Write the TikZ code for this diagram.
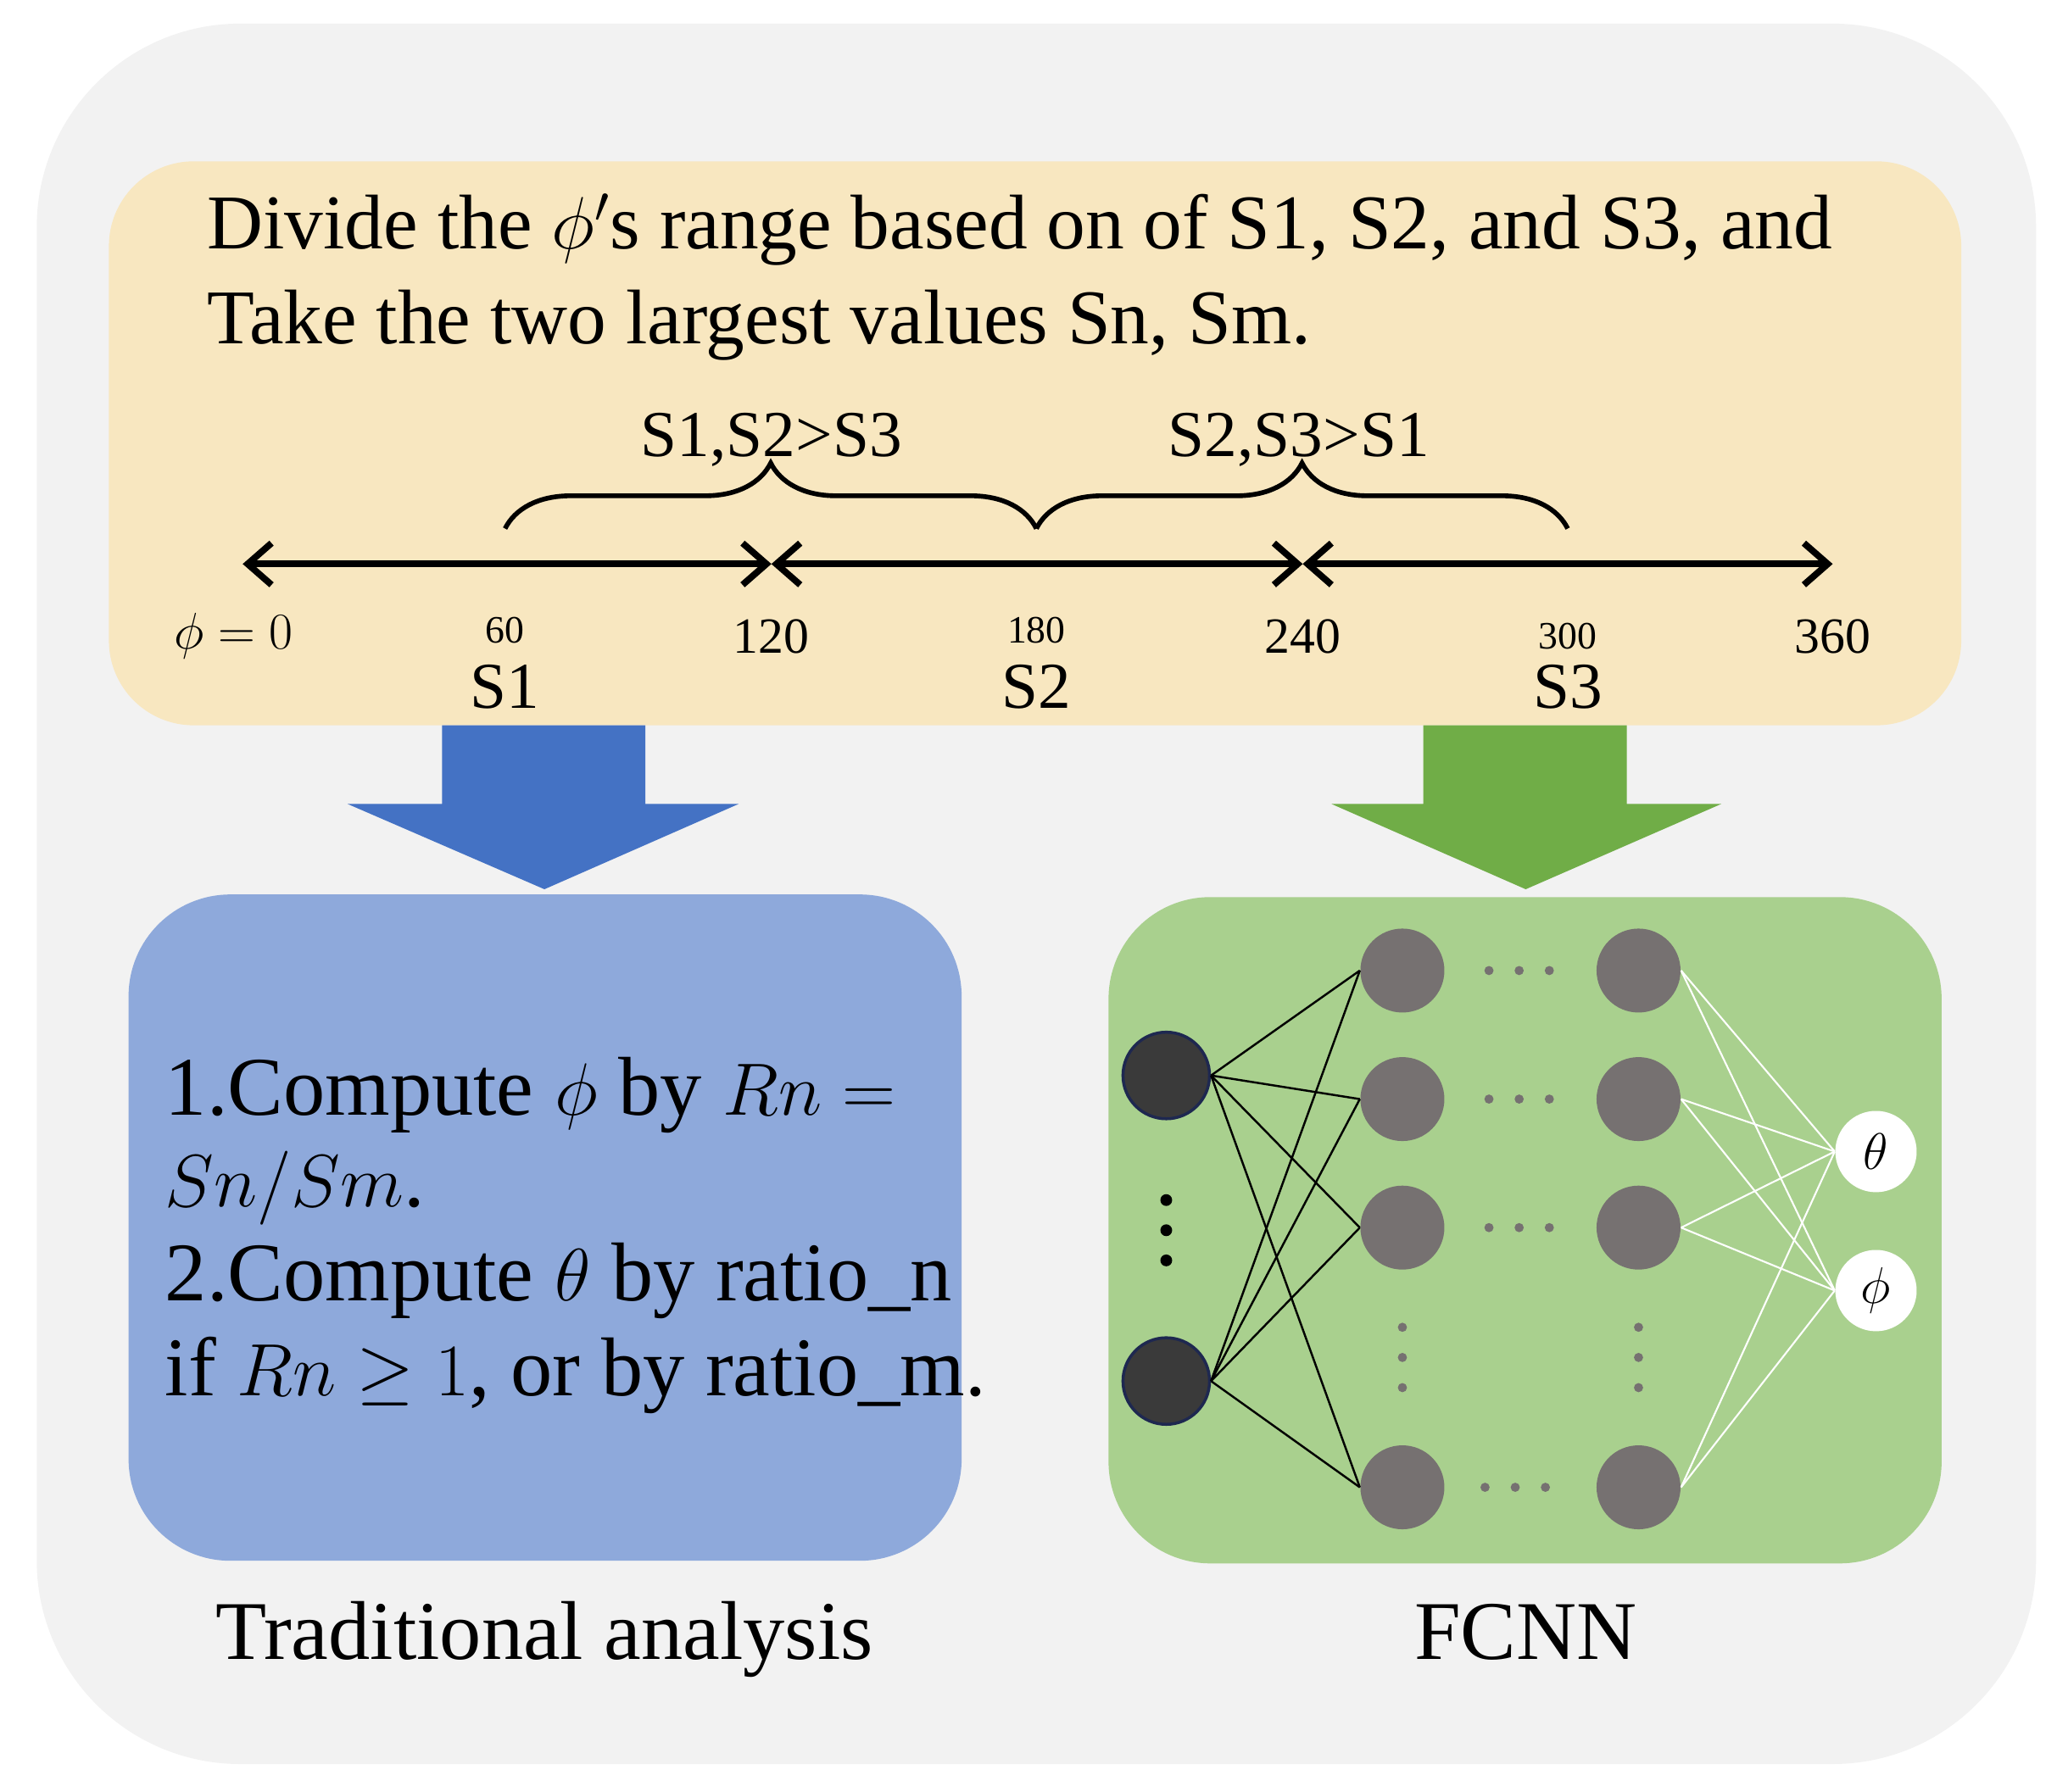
\documentclass[tikz,border=0pt]{standalone}
\usepackage{fontspec}
\setmainfont{Liberation Serif}
\usetikzlibrary{decorations.pathreplacing,arrows.meta}
\definecolor{outerbg}{HTML}{F2F2F2}
\definecolor{yel}{HTML}{F8E7C0}
\definecolor{bluearr}{HTML}{4472C4}
\definecolor{greenarr}{HTML}{70AD47}
\definecolor{bluebox}{HTML}{8EA9DB}
\definecolor{greenbox}{HTML}{A9D08E}
\definecolor{hid}{HTML}{767171}
\definecolor{inp}{HTML}{3A3A3A}
\begin{document}
\begin{tikzpicture}[x=0.01547cm,y=-0.01547cm,
  big/.style={font=\fontsize{26}{31}\selectfont},
  tick/.style={font=\fontsize{17}{20}\selectfont},
  small/.style={font=\fontsize{13}{15}\selectfont},
  slab/.style={font=\fontsize{22}{26}\selectfont},
  axis/.style={line width=2.2pt,{Straight Barb[length=8pt,width=14pt]}-{Straight Barb[length=8pt,width=14pt]}},
  br/.style={line width=1.6pt,decorate,decoration={brace,amplitude=22pt}},
  hn/.style={circle,fill=hid,minimum size=64*0.01547cm,inner sep=0},
  inn/.style={circle,fill=inp,draw={rgb,255:red,30;green,40;blue,80},line width=1pt,minimum size=66*0.01547cm,inner sep=0},
  outn/.style={circle,fill=white,minimum size=62*0.01547cm,inner sep=0,font=\fontsize{17}{20}\selectfont},
  dt/.style={circle,fill=hid,inner sep=0,minimum size=7*0.01547cm}]
\useasboundingbox (0,0) rectangle (1568,1366);
\fill[outerbg,rounded corners=2.4cm] (28,18) rectangle (1552,1345);
\fill[yel,rounded corners=1cm] (83,123) rectangle (1495,553);
\node[big,anchor=base west,align=left] (t1) at (150,190) {Divide the $\phi'$s range based on of S1, S2, and S3, and};
\node[big,anchor=base west] (t2) at (150,262) {Take the two largest values Sn, Sm.};
\coordinate (a0) at (185,430); \coordinate (a1) at (588,430);
\coordinate (a2) at (993,430); \coordinate (a3) at (1397,430);
\draw[axis] (a0) -- (a1); \draw[axis] (a1) -- (a2); \draw[axis] (a2) -- (a3);
\coordinate (b0) at (385,403); \coordinate (b1) at (790,403); \coordinate (b2) at (1195,403);
\draw[br] (b0) -- (b1); \draw[br] (b1) -- (b2);
\node[slab,anchor=base] (l1) at (588,348) {S1,S2>S3};
\node[slab,anchor=base] (l2) at (990,348) {S2,S3>S1};
\node[tick,anchor=base] (n0) at (178,495) {$\phi=0$};
\node[small,anchor=base] (n60) at (385,490) {60};
\node[tick,anchor=base] (n120) at (588,498) {120};
\node[small,anchor=base] (n180) at (790,490) {180};
\node[tick,anchor=base] (n240) at (993,498) {240};
\node[small,anchor=base] (n300) at (1195,495) {300};
\node[tick,anchor=base] (n360) at (1397,498) {360};
\node[slab,anchor=base] (s1) at (385,540) {S1};
\node[slab,anchor=base] (s2) at (790,540) {S2};
\node[slab,anchor=base] (s3) at (1195,540) {S3};
\fill[bluearr] (337,553) -- (492,553) -- (492,613) -- (563,613) -- (415,678) -- (265,613) -- (337,613) -- cycle;
\fill[greenarr] (1085,553) -- (1240,553) -- (1240,613) -- (1312,613) -- (1163,678) -- (1015,613) -- (1085,613) -- cycle;
\fill[bluebox,rounded corners=1.2cm] (98,682) rectangle (733,1190);
\node[font=\fontsize{28}{33}\selectfont,anchor=base west] (c1) at (118,850) {1.Compute $\phi$ by $Rn=$};
\node[font=\fontsize{28}{33}\selectfont,anchor=base west] (c2) at (118,920) {$Sn/Sm$.};
\node[font=\fontsize{28}{33}\selectfont,anchor=base west] (c3) at (118,992) {2.Compute $\theta$ by ratio\_n};
\node[font=\fontsize{28}{33}\selectfont,anchor=base west] (c4) at (118,1064) {if $Rn\geq1$, or by ratio\_m.};
\fill[greenbox,rounded corners=1.2cm] (845,684) rectangle (1480,1192);
\foreach \n/\y in {1/740,2/838,3/936,4/1134}{
  \node[hn] (h\n) at (1069,\y) {};
  \node[hn] (g\n) at (1249,\y) {};
}
\node[inn] (i1) at (889,820) {};
\node[inn] (i2) at (889,1053) {};
\node[outn] (o1) at (1430,878) {$\theta$};
\node[outn] (o2) at (1430,984) {$\phi$};
\foreach \i in {1,2}\foreach \n in {1,2,3,4} \draw[line width=0.7pt] (i\i.east) -- (h\n.west);
\foreach \n in {1,2,3,4}\foreach \o in {1,2} \draw[white,line width=0.6pt] (g\n.east) -- (o\o.west);
\foreach \y in {915,938,961} \node[circle,fill=black,inner sep=0,minimum size=9*0.01547cm] (vd\y) at (889,\y) {};
\foreach \x in {1069,1249}\foreach \y in {1012,1035,1058} \node[dt] (d\x\y) at (\x,\y) {};
\foreach \y in {740,838,936}\foreach \x in {1135,1158,1181} \node[dt] (e\x\y) at (\x,\y) {};
\foreach \x in {1132,1155,1178} \node[dt] (f\x) at (\x,1134) {};
\node[font=\fontsize{28}{33}\selectfont,anchor=base] (ta) at (415,1265) {Traditional analysis};
\node[font=\fontsize{28}{33}\selectfont,anchor=base] (fc) at (1163,1265) {FCNN};
\end{tikzpicture}
\end{document}
